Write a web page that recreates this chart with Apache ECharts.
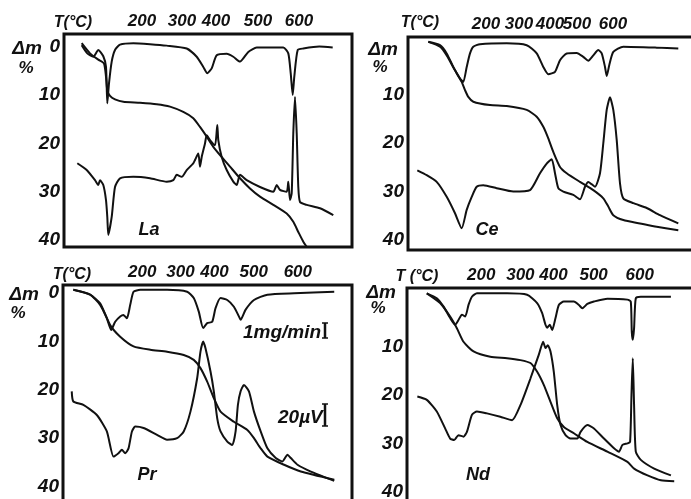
<!DOCTYPE html>
<html>
<head>
<meta charset="utf-8">
<script src="https://cdn.jsdelivr.net/npm/echarts@6.0.0/dist/echarts.min.js"></script>
<style>
  html, body { margin: 0; padding: 0; background: #fff; }
  #chart { width: 691px; height: 499px; }
</style>
</head>
<body>
<div id="chart"></div>
<script>
// temperature labels along the top of every panel, and where they sit on the time axis
const tempLabels = ['200', '300', '400', '500', '600'];
const laTicks = [78, 118, 152, 194, 235];
const ceTicks = [78, 111, 142, 169, 205];
const prTicks = [79, 117, 151, 190, 234];
const ndTicks = [74, 113, 146, 186, 232];
const massTicks = [0, 10, 20, 30, 40];
const elements = ['La', 'Ce', 'Pr', 'Nd'];

// [time, Δm %]
const laDtg = [[17.7,-0.3],[23.3,1.4],[29.3,2.1],[34.3,0.7],[39.3,2.0],[42,4.2],[43.3,11.7],[45,7.6],[47.7,3.1],[51,0.7],[56,-0.4],[69.3,-0.7],[86,-0.5],[102.7,-0.2],[122.7,0.4],[132.7,2.1],[139.3,4.2],[143.3,5.5],[147.7,4.5],[152.7,1.8],[162.7,1.5],[169.3,2.1],[176,3.1],[184.3,1.1],[192.7,0.2],[219.3,0.2],[224.3,1.4],[226.7,5.5],[228.7,10.0],[230.3,6.2],[233.7,0.7],[239.3,0.4],[255.3,0],[268.7,0.2]];
const laTg = [[17.7,-0.7],[26,1.4],[34.3,2.7],[40,3.5],[42,6.2],[43.3,9.0],[46,10.2],[51,10.9],[59.3,11.4],[76,11.6],[92.7,11.9],[106,12.4],[119.3,13.5],[129.3,14.8],[136,16.6],[142.7,18.6],[149.3,20.7],[156,22.4],[166,24.8],[176,27.2],[186,29.3],[196,31.0],[209.3,32.7],[222.7,34.5],[229.3,36.2],[234.3,38.3],[239.3,40.3],[245,42]];
const laDta = [[13.3,24.1],[22.7,25.5],[31,27.6],[34.3,28.6],[36,27.6],[39.3,28.6],[42,31.7],[43.3,35.2],[44.3,38.9],[47.7,35.2],[51,29.0],[56,27.2],[69.3,26.9],[86,27.2],[102.7,27.9],[109.3,27.6],[112.7,26.5],[117.7,26.9],[122.7,25.5],[129.3,24.1],[134.3,22.1],[136,24.8],[137.7,22.8],[141,20.0],[142.7,18.3],[146,19.3],[151,20.4],[153.3,16.2],[154.3,19.3],[157.7,22.8],[162.7,25.5],[169.3,27.9],[172.7,28.6],[176,26.5],[182.7,27.6],[196,29.0],[209.3,30.0],[212.7,28.6],[216,29.6],[222.7,30.0],[224.3,27.9],[226,31.7],[227.7,30.3],[229.3,17.9],[231,10.4],[232.7,17.9],[234.3,29.0],[236,32.1],[242.7,32.7],[256,33.4],[269.3,34.8]];

const ceDtg = [[20.3,-1.0],[32,-0.3],[38.7,1.4],[45.3,4.2],[52,6.6],[55.3,7.3],[58.7,4.2],[62,1.4],[65.3,0],[72,-0.5],[98.7,-0.7],[118.7,-0.3],[128.7,1.4],[135.3,4.2],[140.3,5.7],[147,5.2],[152,2.8],[158.7,1.4],[168.7,1.3],[175.3,2.1],[180.3,2.9],[185.3,1.8],[190.3,0.7],[193.7,1.4],[197,4.2],[198.7,6.1],[201.3,3.8],[205.3,1.1],[215.3,0],[248.7,0.2],[270.3,0.4]];
const ceTg = [[20.3,-1.0],[32,0],[38.7,1.8],[47,4.9],[53.7,7.3],[57,9.0],[60.3,10.4],[65.3,11.4],[82,12.1],[98.7,12.3],[118.7,13.1],[128.7,14.5],[135.3,16.6],[140.3,19.0],[145.3,21.8],[152,24.9],[158.7,26.2],[172,28.0],[185.3,29.7],[195.3,31.4],[200.3,33.1],[205.3,34.9],[215.3,35.9],[232,36.6],[248.7,37.3],[270.3,38.0]];
const ceDta = [[9.3,25.6],[18.7,26.6],[28.7,28.0],[38.7,31.1],[47,34.5],[53.7,37.6],[58.7,33.8],[63.7,31.1],[68.7,29.0],[75.3,28.7],[88.7,29.3],[105.3,30.0],[122,29.7],[132,26.2],[138.7,24.2],[143.7,23.3],[147,26.2],[150.3,29.3],[155.3,30.0],[165.3,30.7],[172,31.6],[177,29.0],[180.3,28.0],[187,29.0],[192,26.2],[195.3,20.0],[198.7,13.1],[202,10.5],[205.3,13.1],[208.7,19.3],[212,28.3],[215.3,31.4],[225.3,32.4],[238.7,33.4],[252,34.9],[270.3,36.6]];

const prDtg = [[10.3,-0.7],[27,0.3],[37,2.4],[43.7,5.2],[48,7.6],[52,5.9],[57,4.8],[60.3,4.5],[63.7,5.2],[67,2.4],[70.3,-0.3],[77,-0.7],[103.7,-0.7],[123.7,-0.3],[130.3,1.0],[135.3,3.8],[139.7,7.2],[143.7,6.2],[148.7,5.9],[152,3.1],[157,1.0],[163.7,1.4],[170.3,2.8],[175.3,4.8],[177,5.5],[182,3.4],[190.3,1.4],[203.7,0.3],[230.3,0],[270.3,-0.3]];
const prTg = [[10.3,-0.7],[27,0.3],[37,2.1],[47,6.6],[57,9.0],[70.3,11.0],[87,11.7],[103.7,12.1],[120.3,12.8],[130.3,13.8],[137,15.5],[143.7,18.3],[150.3,21.7],[157,24.5],[170.3,26.6],[183.7,28.3],[190.3,30.0],[197,32.1],[203.7,33.8],[220.3,35.5],[237,36.9],[270.3,38.6]];
const prDta = [[8.7,20.3],[10.3,22.4],[20.3,23.1],[33.7,25.2],[43.7,28.6],[50.3,33.8],[55.3,33.1],[58.7,32.4],[62,33.1],[65.3,32.1],[68.7,28.6],[72,27.6],[80.3,27.9],[93.7,29.3],[103.7,30.3],[113.7,30.0],[120.3,28.6],[127,24.5],[133.7,17.6],[137,12.1],[139.7,10.0],[142,11.4],[147,16.2],[150.3,20.3],[153.7,25.9],[157,28.6],[163.7,30.7],[168.7,31.4],[172,28.6],[174.3,23.1],[177,20.3],[180.3,19.0],[185.3,20.3],[190.3,24.5],[197,28.6],[203.7,32.1],[212,34.1],[218.7,34.8],[223.7,33.4],[227,34.1],[233.7,35.5],[247,36.9],[270.3,38.8]];

const ndDtg = [[19.7,-1.0],[29.7,0],[36.3,1.7],[43,4.1],[48,5.5],[51.3,4.5],[54.7,3.4],[58,3.8],[61.3,1.4],[64.7,-0.3],[69.7,-1.0],[99.7,-1.0],[119.7,-0.7],[129.7,1.0],[134.7,3.1],[138,5.5],[139.7,6.1],[142.3,5.5],[144.7,6.6],[148,4.1],[151.3,1.4],[156.3,0.7],[166.3,0.7],[171.3,1.4],[174.7,2.1],[179.7,1.2],[186.3,0.7],[199.7,0.1],[219.7,0.3],[223,0.7],[224,6.9],[225,8.6],[226.3,6.2],[228,0],[233,-0.3],[263,-0.3]];
const ndTg = [[19.7,-1.0],[33,1.0],[43,3.8],[49.7,6.2],[56.3,9.0],[66.3,11.0],[83,12.1],[99.7,12.4],[113,12.8],[123,13.4],[129.7,15.2],[136.3,17.9],[143,21.4],[149.7,24.8],[156.3,26.6],[166.3,27.9],[179.7,29.7],[199.7,31.7],[219.7,33.8],[226.3,35.2],[239.7,36.6],[253,37.6],[266.3,37.8]];
const ndDta = [[10.3,20.3],[19.7,21.0],[29.7,23.4],[38,26.9],[43,29.0],[47,29.3],[51.3,28.3],[56.3,28.6],[59.7,27.6],[64.7,24.1],[69.7,23.4],[79.7,23.8],[93,24.5],[104.7,25.2],[113,22.1],[123,16.6],[131.3,11.7],[135.7,9.0],[138,10.3],[140.3,9.7],[143,11.0],[146.3,15.2],[149.7,22.1],[153,26.2],[158,28.3],[163,29.0],[169.7,29.0],[173,27.6],[179.7,26.2],[186.3,26.9],[196.3,29.0],[206.3,31.0],[211.3,31.7],[214.7,30.3],[219.7,30.0],[222.3,29.7],[223.7,20.0],[225,12.4],[226.3,22.1],[228,31.7],[233,33.4],[246.3,35.2],[263,36.6]];

const panelTicks = [laTicks, ceTicks, prTicks, ndTicks];
const panelCurves = [[laDtg, laTg, laDta], [ceDtg, ceTg, ceDta], [prDtg, prTg, prDta], [ndDtg, ndTg, ndDta]];

const ink = '#111';
const family = '"Liberation Sans Narrow", "Liberation Sans", sans-serif';
const font = { fontFamily: family, fontStyle: 'italic', fontWeight: 'bold', color: ink };

const panels = [
  { grid: { left: 64, top: 34, width: 288, height: 213 }, y: [-2.6, 41.4], zeroLabel: true },
  { grid: { left: 408, top: 37, width: 288, height: 213 }, y: [-2.0, 42.1], zeroLabel: false },
  { grid: { left: 63, top: 285, width: 289, height: 217 }, y: [-1.7, 43.2], zeroLabel: true },
  { grid: { left: 407, top: 288, width: 289, height: 214 }, y: [-2.1, 42.1], zeroLabel: false },
];

const chart = echarts.init(document.getElementById('chart'));

const grid = panels.map((p) => ({
  ...p.grid,
  outerBoundsMode: 'none',
  show: true,
  borderColor: ink,
  borderWidth: 3,
  backgroundColor: 'transparent',
}));

const xAxis = panels.map((p, i) => ({
  type: 'value',
  gridIndex: i,
  position: 'top',
  min: 0,
  max: 288,
  axisLine: { show: false },
  axisTick: { show: false },
  splitLine: { show: false },
  axisLabel: {
    ...font,
    fontSize: 17,
    margin: 4,
    customValues: panelTicks[i],
    formatter: (v) => tempLabels[panelTicks[i].indexOf(v)] || '',
  },
}));

const yAxis = panels.map((p, i) => ({
  type: 'value',
  gridIndex: i,
  inverse: true,
  min: p.y[0],
  max: p.y[1],
  axisLine: { show: false },
  axisTick: { show: false },
  splitLine: { show: false },
  axisLabel: {
    ...font,
    fontSize: 19,
    margin: 4,
    customValues: p.zeroLabel ? massTicks : massTicks.slice(1),
  },
}));

const series = [];
panelCurves.forEach((curves, i) => {
  curves.forEach((c) => {
    series.push({
      type: 'line',
      xAxisIndex: i,
      yAxisIndex: i,
      data: c,
      showSymbol: false,
      smooth: 0.2,
      lineStyle: { color: ink, width: 2 },
    });
  });
});

// annotation text: axis titles, element names, scale bars
const txt = (x, y, text, size, align) => ({
  type: 'text', x, y,
  style: { text, font: `italic bold ${size}px ${family}`, fill: ink, textAlign: align || 'center', textVerticalAlign: 'middle' },
});
const bar = (x, y1, y2) => ({
  type: 'group',
  children: [
    { type: 'line', shape: { x1: x, y1, x2: x, y2 }, style: { stroke: ink, lineWidth: 2.5 } },
    { type: 'line', shape: { x1: x - 3, y1, x2: x + 3, y2: y1 }, style: { stroke: ink, lineWidth: 1.5 } },
    { type: 'line', shape: { x1: x - 3, y1: y2, x2: x + 3, y2 }, style: { stroke: ink, lineWidth: 1.5 } },
  ],
});

const graphic = [
  txt(73, 23, 'T(°C)', 16), txt(420, 23, 'T(°C)', 16),
  txt(72, 275, 'T(°C)', 16), txt(417, 277, 'T (°C)', 16),
  txt(27, 49, 'Δm', 19), txt(26, 68, '%', 17),
  txt(383, 50, 'Δm', 19), txt(380, 67, '%', 17),
  txt(24, 295, 'Δm', 19), txt(18, 313, '%', 17),
  txt(381, 293, 'Δm', 19), txt(378, 308, '%', 17),
  txt(149, 230, elements[0], 18), txt(487, 230, elements[1], 18),
  txt(147, 475, elements[2], 18), txt(478, 475, elements[3], 18),
  txt(243, 333, '1mg/min', 19, 'left'), bar(325, 323, 338),
  txt(278, 418, '20µV', 19, 'left'), bar(325, 404, 426),
];

chart.setOption({
  animation: false,
  backgroundColor: '#fff',
  grid,
  xAxis,
  yAxis,
  series,
  graphic,
});
</script>
</body>
</html>
